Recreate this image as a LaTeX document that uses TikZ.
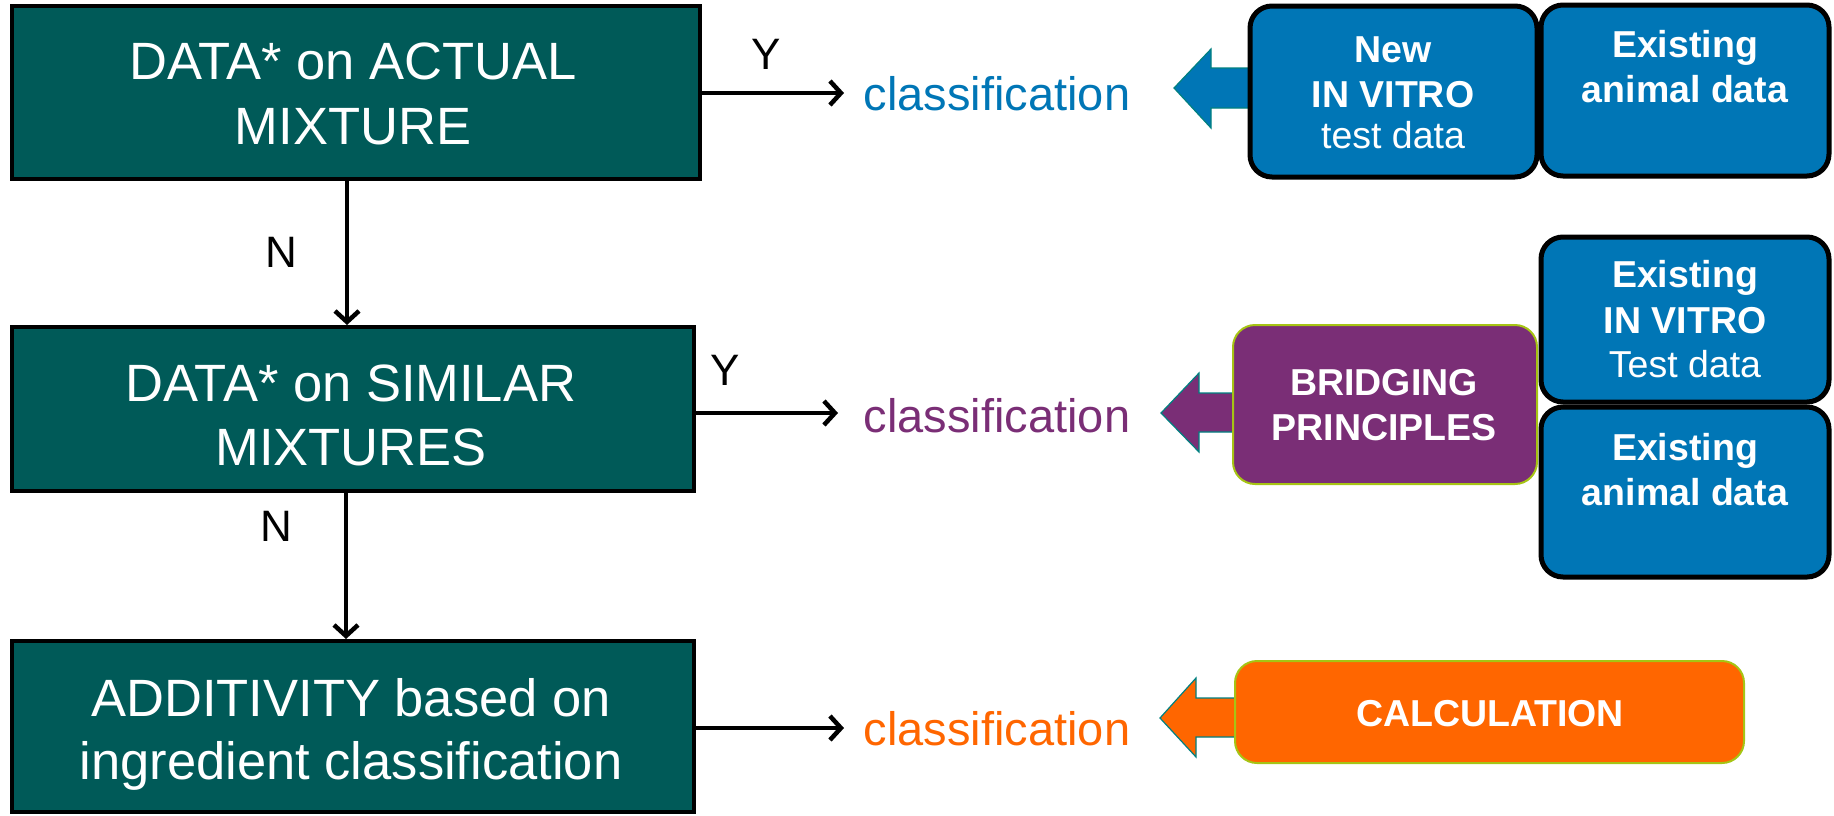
\documentclass[tikz,border=0pt]{standalone}
\usepackage{fontspec}
\setmainfont{Liberation Sans}
\usetikzlibrary{arrows.meta,calc}
\definecolor{tealbg}{RGB}{0,90,88}
\definecolor{blueb}{RGB}{0,118,182}
\definecolor{purpb}{RGB}{122,46,118}
\definecolor{orangeb}{RGB}{255,102,0}
\definecolor{limeedge}{RGB}{166,196,20}
\definecolor{arrowedge}{RGB}{0,128,128}
\begin{document}
\begin{tikzpicture}[x=1pt,y=-1pt,
  tealbox/.style={draw=black,line width=4pt,fill=tealbg,rectangle,inner sep=0pt},
  bluebox/.style={draw=black,line width=5pt,fill=blueb,rounded corners=22pt,inner sep=0pt},
  purpbox/.style={draw=limeedge,line width=2pt,fill=purpb,rounded corners=22pt,inner sep=0pt},
  orangebox/.style={draw=limeedge,line width=2pt,fill=orangeb,rounded corners=22pt,inner sep=0pt},
  bigtxt/.style={text=white,anchor=base,inner sep=0pt,font=\fontsize{52.5}{60}\selectfont},
  boldtxt/.style={text=white,anchor=base,inner sep=0pt,font=\fontsize{37.5}{43}\selectfont\bfseries},
  normtxt/.style={text=white,anchor=base,inner sep=0pt,font=\fontsize{37.5}{43}\selectfont},
  clstxt/.style={anchor=base,inner sep=0pt,font=\fontsize{47}{56}\selectfont},
  yn/.style={anchor=base,inner sep=0pt,font=\fontsize{44}{50}\selectfont},
  flow/.style={line width=4.5pt,-{Straight Barb[length=11pt,width=24pt]}},
  blockarrow/.style={draw=arrowedge,line width=1.2pt}
]
\useasboundingbox (0,0) rectangle (1834,815);

% left teal boxes
\node[tealbox,minimum width=688pt,minimum height=173pt] (box1) at (356,92.5) {};
\node[tealbox,minimum width=682pt,minimum height=164pt] (box2) at (353,409) {};
\node[tealbox,minimum width=682pt,minimum height=171pt] (box3) at (353,726.5) {};

\node[bigtxt] (t1a) at (353,79) {DATA* on ACTUAL};
\node[bigtxt] (t1b) at (353,144) {MIXTURE};
\node[bigtxt] (t2a) at (351,401) {DATA* on SIMILAR};
\node[bigtxt] (t2b) at (351,465) {MIXTURES};
\node[bigtxt] (t3a) at (351,716) {ADDITIVITY based on};
\node[bigtxt] (t3b) at (351,779) {ingredient classification};

% vertical flow arrows
\draw[flow] ([xshift=-9pt]box1.south) -- ([xshift=-9pt]box1.south |- box2.north);
\draw[flow] ([xshift=-7pt]box2.south) -- ([xshift=-7pt]box2.south |- box3.north);
\node[yn] (n1) at (281,267) {N};
\node[yn] (n2) at (276,541) {N};

% horizontal arrows
\coordinate (e1) at (844,93);
\coordinate (e2) at (838,413);
\coordinate (e3) at (844,728);
\draw[flow] (e1 -| box1.east) -- (e1);
\draw[flow] (e2 -| box2.east) -- (e2);
\draw[flow] (e3 -| box3.east) -- (e3);
\node[yn] (y1) at (766,69) {Y};
\node[yn] (y2) at (725,385) {Y};

% classification labels
\node[clstxt,text=blueb] (cls1) at (997,110) {classification};
\node[clstxt,text=purpb] (cls2) at (997,432) {classification};
\node[clstxt,text=orangeb] (cls3) at (997,745) {classification};

% block arrows (drawn before boxes)
\draw[blockarrow,fill=blueb] (1256,68) -- (1211,68) -- (1211,49) -- (1174,88) -- (1211,128) -- (1211,108) -- (1256,108) -- cycle;
\draw[blockarrow,fill=purpb] (1238,393) -- (1199,393) -- (1199,373) -- (1161,413) -- (1199,452) -- (1199,432) -- (1238,432) -- cycle;
\draw[blockarrow,fill=orangeb] (1238,698) -- (1196,698) -- (1196,678) -- (1160,718) -- (1196,757) -- (1196,737) -- (1238,737) -- cycle;

% right boxes
\node[bluebox,minimum width=287pt,minimum height=171pt] (nb1) at (1393.5,91.5) {};
\node[bluebox,minimum width=288pt,minimum height=171pt] (nb2) at (1685,90.5) {};
\node[bluebox,minimum width=288pt,minimum height=165pt] (nb3) at (1685,319.5) {};
\node[bluebox,minimum width=288pt,minimum height=170pt] (nb4) at (1685,492) {};
\node[purpbox,minimum width=304pt,minimum height=159pt] (pb) at (1385,404.5) {};
\node[orangebox,minimum width=509pt,minimum height=102pt] (ob) at (1489.5,712) {};

\node[boldtxt] (nb1a) at (1393,62) {New};
\node[boldtxt] (nb1b) at (1393,107) {IN VITRO};
\node[normtxt] (nb1c) at (1393,148) {test data};
\node[boldtxt] (nb2a) at (1685,57) {Existing};
\node[boldtxt] (nb2b) at (1685,102) {animal data};
\node[boldtxt] (nb3a) at (1685,287) {Existing};
\node[boldtxt] (nb3b) at (1685,333) {IN VITRO};
\node[normtxt] (nb3c) at (1685,377) {Test data};
\node[boldtxt] (nb4a) at (1685,460) {Existing};
\node[boldtxt] (nb4b) at (1685,505) {animal data};
\node[boldtxt] (pba) at (1384,395) {BRIDGING};
\node[boldtxt] (pbb) at (1384,440) {PRINCIPLES};
\node[boldtxt] (oba) at (1490,726) {CALCULATION};
\end{tikzpicture}
\end{document}
